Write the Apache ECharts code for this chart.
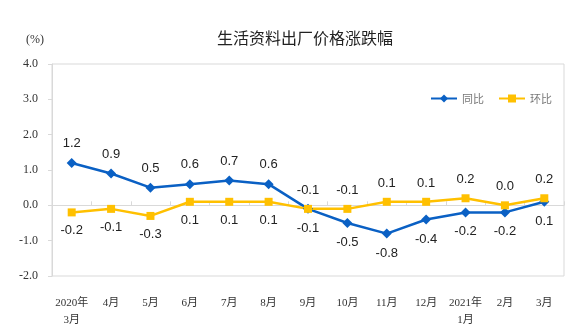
<!DOCTYPE html>
<html><head><meta charset="utf-8">
<script src="https://cdn.jsdelivr.net/npm/echarts@6/dist/echarts.min.js"></script>
<style>html,body{margin:0;padding:0;background:#fff}#c{width:575px;height:329px}</style>
</head><body><div id="c"></div>
<script>
const categories = ['2020年\n3月','4月','5月','6月','7月','8月','9月','10月','11月','12月','2021年\n1月','2月','3月'];
const yoy = [1.2, 0.9, 0.5, 0.6, 0.7, 0.6, -0.1, -0.5, -0.8, -0.4, -0.2, -0.2, 0.1];
const mom = [-0.2, -0.1, -0.3, 0.1, 0.1, 0.1, -0.1, -0.1, 0.1, 0.1, 0.2, 0.0, 0.2];
const yoyLabelPos = ['top','top','top','top','top','top','bottom','bottom','bottom','bottom','bottom','bottom','bottom'];
const momLabelPos = ['bottom','bottom','bottom','bottom','bottom','bottom','top','top','top','top','top','top','top'];

const chart = echarts.init(document.getElementById('c'));
const lblStyle = {fontFamily:'Liberation Sans, Arial, sans-serif', fontSize:13, color:'#222', distance:8};
chart.setOption({
  animation:false,
  title:{text:'生活资料出厂价格涨跌幅', left:212, top:25, textStyle:{fontFamily:'Noto Sans CJK SC', fontSize:16, fontWeight:'normal', color:'#222'}},
  graphic:[{type:'text', left:26, top:34, style:{text:'(%)', font:'12px "Liberation Serif", serif', fill:'#333'}}],
  legend:{left:425, top:88, itemWidth:26, itemHeight:10, itemGap:14, textStyle:{fontFamily:'Noto Sans CJK SC', fontSize:11, color:'#777'},
    data:['同比','环比']},
  grid:{left:52, right:11, top:64, bottom:53, show:true, borderColor:'#d9d9d9', borderWidth:1},
  xAxis:[
    {type:'category', data:categories, boundaryGap:true, position:'bottom',
     axisLine:{show:false, onZero:false}, axisTick:{show:false},
     axisLabel:{interval:0, margin:19, fontFamily:'Liberation Serif, Noto Sans CJK SC', fontSize:11, color:'#333', lineHeight:17}},
    {type:'category', data:categories, boundaryGap:true, position:'bottom',
     axisLine:{show:true, onZero:true, lineStyle:{color:'#d9d9d9'}},
     axisTick:{show:true, inside:true, length:4, interval:0, lineStyle:{color:'#d9d9d9'}},
     axisLabel:{show:false}}
  ],
  yAxis:{type:'value', min:-2, max:4, interval:1,
    axisLine:{show:true, lineStyle:{color:'#d9d9d9'}},
    axisTick:{show:true, length:4, lineStyle:{color:'#d9d9d9'}},
    splitLine:{show:false},
    axisLabel:{formatter:v=>v.toFixed(1), fontFamily:'Liberation Serif, serif', fontSize:12, color:'#333', margin:14}},
  series:[
    {name:'同比', type:'line', xAxisIndex:0, data:yoy.map((v,i)=>({value:v, label:{position:yoyLabelPos[i]}})),
     symbol:'diamond', symbolSize:10, lineStyle:{color:'#0a60c4', width:2.5}, itemStyle:{color:'#0a60c4'},
     label:Object.assign({show:true, formatter:p=>p.value.toFixed(1)}, lblStyle)},
    {name:'环比', type:'line', xAxisIndex:0, data:mom.map((v,i)=>({value:v, label:{position:momLabelPos[i]}})),
     symbol:'rect', symbolSize:8, lineStyle:{color:'#ffc000', width:2.5}, itemStyle:{color:'#ffc000'},
     label:Object.assign({show:true, formatter:p=>p.value.toFixed(1)}, lblStyle)}
  ]
});
</script></body></html>
